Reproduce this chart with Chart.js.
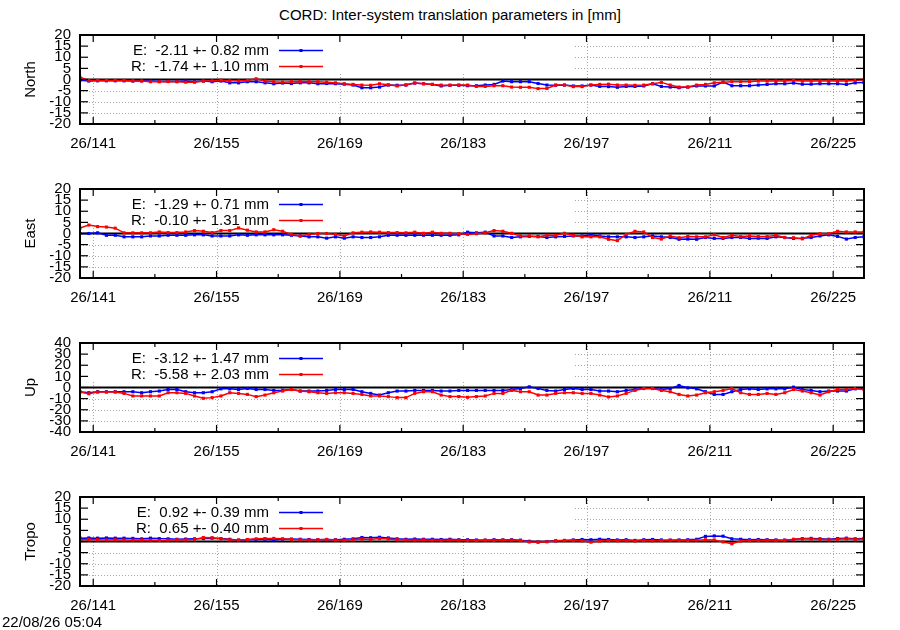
<!DOCTYPE html>
<html>
<head>
<meta charset="utf-8">
<script src="https://cdn.jsdelivr.net/npm/chart.js@4.4.1/dist/chart.umd.min.js"></script>
<style>
html, body { margin: 0; padding: 0; background: #fff; }
body { width: 900px; height: 630px; position: relative; overflow: hidden; font-family: 'Liberation Sans', Arial, sans-serif; color: #000; }
canvas { position: absolute; left: 0; }
#title { position: absolute; top: 6px; left: 0; width: 900px; text-align: center; font-size: 15px; line-height: 18px; }
#stamp { position: absolute; left: 2px; top: 613px; font-size: 15px; line-height: 18px; }
</style>
</head>
<body>
<div id="title">CORD: Inter-system translation parameters in [mm]</div>
<canvas id="north" width="900" height="140" style="top:17px"></canvas>
<canvas id="east" width="900" height="140" style="top:171px"></canvas>
<canvas id="up" width="900" height="140" style="top:325px"></canvas>
<canvas id="tropo" width="900" height="140" style="top:479px"></canvas>
<div id="stamp">22/08/26 05:04</div>
<script>
// daily solutions, plotted at noon of each day of year
const firstDay = 139.5;
const lastDay = 228.5;
const days = Array.from({ length: 90 }, (_, i) => firstDay + i);

const majorDays = [141, 155, 169, 183, 197, 211, 225];
const minorDays = [148, 162, 176, 190, 204, 218];
const dayLabels = ['26/141', '26/155', '26/169', '26/183', '26/197', '26/211', '26/225'];

// North
const northE = [-0.3, -0.7, -0.6, -0.6, -0.6, -0.6, -0.7, -0.6, -0.7, -0.9,
  -0.9, -0.9, -0.7, -1.0, -0.7, -1.0, -0.7, -1.5, -1.5, -1.0,
  -1.0, -1.5, -1.9, -1.6, -1.8, -1.5, -1.5, -1.9, -1.8, -1.9,
  -2.1, -2.5, -3.7, -3.7, -3.4, -2.5, -2.6, -2.5, -1.6, -1.9,
  -2.2, -2.9, -2.6, -2.6, -2.8, -2.8, -2.5, -2.2, -0.7, -1.0,
  -1.0, -1.0, -1.8, -2.5, -2.6, -2.5, -2.9, -2.9, -2.5, -3.1,
  -3.2, -3.5, -3.1, -3.1, -2.9, -1.9, -3.1, -3.4, -3.7, -3.4,
  -2.9, -2.9, -2.9, -1.2, -2.8, -2.8, -2.8, -2.5, -2.2, -1.9,
  -1.9, -1.6, -2.1, -2.1, -1.9, -1.9, -1.9, -2.2, -1.5, -1.3];
const northR = [1.0, -0.4, -0.4, -0.4, -0.4, -0.4, -0.6, -0.7, -1.0, -1.0,
  -0.9, -1.0, -1.2, -1.2, -0.7, -0.6, -0.3, -0.6, -0.7, -0.4,
  0.3, -0.7, -1.0, -1.2, -1.0, -0.9, -1.0, -1.0, -1.2, -1.5,
  -1.9, -2.2, -2.5, -2.6, -1.9, -2.4, -2.9, -2.4, -1.6, -1.9,
  -2.2, -2.5, -2.6, -2.5, -2.5, -3.1, -3.1, -2.8, -2.8, -3.4,
  -3.5, -3.5, -4.1, -4.0, -2.5, -2.5, -3.2, -3.2, -2.5, -2.2,
  -2.1, -2.5, -2.5, -2.6, -2.5, -1.9, -1.3, -2.5, -3.4, -3.4,
  -2.5, -2.2, -1.5, -1.2, -1.0, -1.0, -1.0, -0.7, -0.7, -0.7,
  -0.7, -0.4, -0.7, -0.7, -0.7, -0.7, -0.7, -0.7, -0.4, 0.0];

// East
const eastE = [0.0, 0.0, 0.3, -0.8, -0.8, -1.5, -1.5, -1.5, -1.1, -1.1,
  -0.8, -0.8, -0.8, -0.6, -0.6, -1.1, -1.1, -1.1, -0.6, -0.8,
  -0.6, -0.6, -0.6, -0.6, -0.8, -1.1, -1.5, -1.5, -2.1, -1.5,
  -2.1, -1.5, -1.8, -1.8, -1.5, -0.8, -0.8, -0.8, -0.8, -0.8,
  -0.8, -0.8, -0.8, -0.6, 0.6, 0.3, 0.6, -1.1, -1.1, -1.8,
  -1.5, -1.3, -1.3, -1.8, -1.5, -1.3, -1.1, -1.1, -0.6, -1.1,
  -1.5, -1.5, -1.5, -1.8, -1.5, -1.1, -1.5, -1.8, -2.6, -2.5,
  -2.6, -1.8, -2.2, -2.2, -1.8, -1.8, -2.2, -2.1, -2.2, -1.5,
  -1.8, -2.2, -2.1, -1.8, -1.1, -0.6, -1.3, -2.5, -1.8, -1.5];
const eastR = [2.4, 3.8, 3.1, 2.9, 2.4, 0.3, 0.3, 0.3, 0.3, 0.7,
  0.4, 0.4, 0.7, 1.3, 1.0, 0.4, 1.3, 1.3, 2.5, 1.5,
  0.7, 0.7, 1.7, 1.0, -0.4, -1.1, -0.4, 0.0, 0.0, -0.4,
  -1.1, 0.3, 0.6, 0.7, 0.6, 0.4, 0.4, 0.3, 0.6, 0.1,
  0.6, 0.1, 0.1, -0.1, -0.4, -0.1, 0.3, 1.3, 1.0, 0.1,
  -1.1, -1.1, -1.5, -0.8, -0.8, 0.1, -0.8, -1.5, -1.5, -1.5,
  -2.6, -3.2, -0.4, 1.0, 0.7, -1.8, -2.5, -1.1, -1.9, -1.3,
  -1.5, -1.5, -0.6, -1.8, -0.8, -1.4, -1.1, -1.4, -1.4, -0.8,
  -1.8, -1.9, -2.4, -0.8, -0.1, -0.1, 1.0, 0.7, 0.7, 0.7];

// Up
const upE = [-3.8, -4.7, -3.8, -3.8, -3.8, -3.8, -3.8, -4.7, -3.8, -3.2,
  -1.8, -1.8, -3.8, -4.7, -4.7, -3.8, -1.2, -1.2, -1.8, -0.9,
  -1.8, -1.8, -2.6, -2.4, -1.8, -3.2, -3.2, -3.2, -2.6, -1.8,
  -1.8, -1.8, -3.8, -5.3, -6.8, -4.7, -3.2, -3.2, -2.6, -2.6,
  -2.6, -3.2, -3.2, -2.6, -2.6, -2.6, -2.6, -2.6, -2.6, -1.8,
  -0.9, 0.6, -0.9, -2.6, -3.2, -1.8, -0.9, -1.8, -1.8, -3.2,
  -3.2, -3.8, -2.6, -1.8, -0.9, -0.9, -1.8, -0.9, 1.8, -0.3,
  -1.2, -3.8, -6.2, -6.2, -3.8, -1.8, -1.2, -1.8, -1.2, -1.2,
  -1.2, 0.3, -1.8, -2.6, -3.8, -3.2, -3.2, -3.2, -1.2, -0.9];
const upR = [-4.1, -5.6, -4.1, -4.1, -4.1, -5.3, -7.6, -7.6, -7.6, -7.6,
  -4.7, -4.7, -5.3, -7.6, -9.7, -9.1, -7.6, -4.7, -5.3, -6.2,
  -8.2, -6.8, -4.7, -3.2, -1.8, -3.2, -3.8, -4.7, -5.3, -4.7,
  -4.7, -5.3, -6.2, -7.6, -7.6, -8.2, -9.1, -9.1, -5.3, -3.8,
  -3.8, -6.8, -8.2, -8.2, -8.8, -8.2, -7.6, -5.3, -5.3, -2.6,
  -3.8, -3.8, -6.8, -6.8, -5.3, -4.7, -4.7, -5.3, -5.3, -6.8,
  -8.5, -7.6, -5.3, -2.6, -0.9, -0.9, -2.6, -3.8, -6.2, -7.6,
  -6.8, -4.7, -3.8, -2.6, -0.9, -4.7, -6.2, -6.2, -5.3, -6.2,
  -4.7, -1.8, -3.2, -4.7, -6.8, -3.8, -1.8, -1.8, -0.9, -1.8];

// Tropo
const tropoE = [1.5, 1.6, 1.5, 1.6, 1.5, 1.5, 1.4, 1.2, 1.5, 1.3,
  1.2, 1.0, 1.1, 1.2, 1.3, 1.5, 1.3, 1.0, 0.6, 0.8,
  0.9, 1.0, 0.7, 1.0, 1.1, 1.0, 0.9, 0.8, 0.9, 0.8,
  1.0, 1.2, 1.8, 1.7, 1.9, 1.6, 1.2, 1.0, 1.1, 1.0,
  1.0, 0.9, 1.0, 0.8, 0.8, 0.7, 0.6, 0.8, 0.7, 0.8,
  0.6, 0.1, -0.2, 0.0, 0.3, 0.5, 0.7, 0.9, 0.8, 1.0,
  0.9, 0.7, 0.8, 0.5, 0.8, 0.9, 0.7, 0.6, 0.7, 0.8,
  1.0, 2.3, 2.5, 2.4, 1.2, 1.0, 0.8, 0.9, 0.8, 0.7,
  0.6, 0.9, 1.3, 1.4, 1.2, 1.0, 1.3, 1.5, 1.2, 1.4];
const tropoR = [0.8, 0.9, 0.8, 0.7, 0.8, 0.7, 0.6, 0.7, 0.6, 0.5,
  0.6, 0.8, 0.7, 0.9, 1.8, 1.7, 1.2, 0.8, 0.7, 0.9,
  1.2, 1.3, 1.4, 1.2, 0.9, 0.8, 0.7, 0.8, 0.9, 0.7,
  0.6, 0.8, 1.1, 0.9, 1.3, 1.1, 0.8, 0.7, 0.6, 0.7,
  0.6, 0.5, 0.7, 0.6, 0.5, 0.4, 0.6, 0.5, 0.7, 0.6,
  0.4, -0.2, -0.3, -0.1, 0.3, 0.4, 0.5, 0.3, -0.3, 0.2,
  0.4, 0.3, 0.4, 0.2, 0.5, 0.3, 0.4, 0.6, 0.5, 0.4,
  0.6, 0.8, 0.7, -0.2, -1.0, 0.2, 0.4, 0.5, 0.6, 0.5,
  0.6, 1.0, 1.2, 1.1, 1.0, 0.8, 1.0, 1.2, 1.0, 1.1];

const BLUE = '#0000ff';
const RED = '#ff0000';

Chart.defaults.font.family = "'Liberation Sans', Arial, sans-serif";
Chart.defaults.font.size = 15;
Chart.defaults.color = '#000';

function line(ctx, x1, y1, x2, y2) {
    ctx.beginPath();
    ctx.moveTo(x1, y1);
    ctx.lineTo(x2, y2);
    ctx.stroke();
}

// gnuplot look: dotted grid, opaque key, zero axis, inward ticks, heavy border
const gnuplotFrame = {
    id: 'gnuplotFrame',
    beforeDatasetsDraw(chart, args, opts) {
        const { ctx, chartArea: a, scales: { x, y } } = chart;
        ctx.save();

        ctx.strokeStyle = '#a8a8a8';
        ctx.lineWidth = 1;
        ctx.setLineDash([1, 2]);
        y.ticks.forEach(t => {
            if (t.value === 0) return;
            const py = Math.round(y.getPixelForValue(t.value)) + 0.5;
            line(ctx, a.left, py, a.right, py);
        });
        majorDays.forEach(d => {
            const px = Math.round(x.getPixelForValue(d)) + 0.5;
            line(ctx, px, a.top, px, a.bottom);
        });
        ctx.setLineDash([]);

        // key box (opaque)
        ctx.fillStyle = '#fff';
        ctx.fillRect(a.left, a.top, 573 - a.left, 39);

        // zero axis
        const y0 = y.getPixelForValue(0);
        ctx.strokeStyle = '#000';
        ctx.lineWidth = 2;
        line(ctx, a.left, y0, a.right, y0);

        // key entries
        ctx.font = "15px 'Liberation Sans', Arial, sans-serif";
        ctx.textAlign = 'right';
        ctx.textBaseline = 'middle';
        opts.keys.forEach((k, i) => {
            const ky = a.top + 15.5 + i * 16;
            ctx.fillStyle = '#000';
            ctx.fillText(k.text, 269, ky);
            ctx.strokeStyle = k.color;
            ctx.lineWidth = 1.5;
            line(ctx, 279, ky, 323, ky);
            ctx.fillStyle = k.color;
            ctx.fillRect(299.5, ky - 1.5, 3, 3);
        });
        ctx.restore();
    },
    afterDatasetsDraw(chart) {
        const { ctx, chartArea: a, scales: { x, y } } = chart;
        ctx.save();
        ctx.strokeStyle = '#000';
        ctx.lineWidth = 1.2;
        majorDays.forEach(d => {
            const px = x.getPixelForValue(d);
            line(ctx, px, a.top, px, a.top + 7);
            line(ctx, px, a.bottom, px, a.bottom - 7);
        });
        minorDays.forEach(d => {
            const px = x.getPixelForValue(d);
            line(ctx, px, a.top, px, a.top + 4);
            line(ctx, px, a.bottom, px, a.bottom - 4);
        });
        y.ticks.forEach(t => {
            const py = y.getPixelForValue(t.value);
            line(ctx, a.left, py, a.left + 8, py);
            line(ctx, a.right, py, a.right - 8, py);
        });
        ctx.lineWidth = 2;
        ctx.strokeRect(a.left, a.top, a.right - a.left, a.bottom - a.top);
        ctx.restore();
    }
};

function series(values, color, order) {
    return {
        data: days.map((d, i) => ({ x: d, y: values[i] })),
        borderColor: color,
        backgroundColor: color,
        borderWidth: 1.5,
        pointStyle: 'rect',
        pointRadius: 2.2,
        pointBorderWidth: 0,
        pointBackgroundColor: color,
        order: order
    };
}

function makePanel(id, name, yLimit, yStep, eValues, rValues, eText, rText) {
    return new Chart(document.getElementById(id), {
        type: 'line',
        data: {
            datasets: [series(eValues, BLUE, 1), series(rValues, RED, 0)]
        },
        options: {
            responsive: false,
            animation: false,
            events: [],
            layout: { padding: { top: 12, right: 36, bottom: 0, left: 0 } },
            plugins: {
                legend: { display: false },
                tooltip: { enabled: false },
                gnuplotFrame: {
                    keys: [{ text: eText, color: BLUE }, { text: rText, color: RED }]
                }
            },
            scales: {
                x: {
                    type: 'linear',
                    min: firstDay,
                    max: lastDay,
                    grid: { display: false, drawTicks: false },
                    border: { display: false },
                    afterBuildTicks: s => { s.ticks = majorDays.map(v => ({ value: v })); },
                    afterFit: s => { s.height = 33; },
                    ticks: {
                        padding: 11,
                        maxRotation: 0,
                        autoSkip: false,
                        callback: (v, i) => dayLabels[i]
                    }
                },
                y: {
                    min: -yLimit,
                    max: yLimit,
                    grid: { display: false, drawTicks: false },
                    border: { display: false },
                    afterFit: s => { s.width = 80; },
                    ticks: { stepSize: yStep, padding: 9, autoSkip: false },
                    title: { display: true, text: name, padding: { top: 22, bottom: 0 } }
                }
            }
        },
        plugins: [gnuplotFrame]
    });
}

makePanel('north', 'North', 20, 5, northE, northR, 'E:  -2.11 +- 0.82 mm', 'R:  -1.74 +- 1.10 mm');
makePanel('east', 'East', 20, 5, eastE, eastR, 'E:  -1.29 +- 0.71 mm', 'R:  -0.10 +- 1.31 mm');
makePanel('up', 'Up', 40, 10, upE, upR, 'E:  -3.12 +- 1.47 mm', 'R:  -5.58 +- 2.03 mm');
makePanel('tropo', 'Tropo', 20, 5, tropoE, tropoR, 'E:  0.92 +- 0.39 mm', 'R:  0.65 +- 0.40 mm');
</script>
</body>
</html>
